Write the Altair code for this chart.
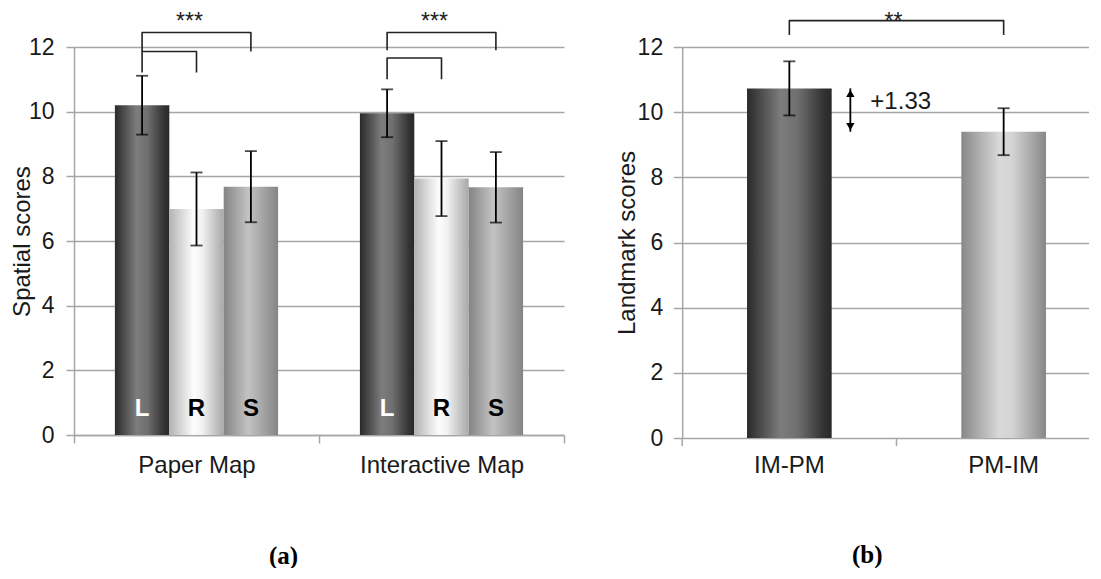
import altair as alt
import pandas as pd

# ---------------- data ----------------
map_types = ["Paper Map", "Interactive Map"]
conditions = ["L", "R", "S"]
letter_colors = ["white", "black", "black"]
paper_means = [10.20, 6.99, 7.68]
paper_errs = [0.91, 1.13, 1.10]
interactive_means = [9.95, 7.93, 7.66]
interactive_errs = [0.74, 1.16, 1.09]

orders = ["IM-PM", "PM-IM"]
landmark_means = [10.73, 9.40]
landmark_errs = [0.83, 0.72]

panel_tags = ["(a)", "(b)"]

# significance brackets (group, from, to, bar level, leg end level)
spatial_brackets = [
    ("Paper Map", "L", "S", 12.45, 11.86),
    ("Paper Map", "L", "R", 11.86, 11.21),
    ("Interactive Map", "L", "S", 12.45, 11.90),
    ("Interactive Map", "L", "R", 11.66, 11.00),
]
spatial_stars = [("Paper Map", "R", "***", 12.56), ("Interactive Map", "R", "***", 12.56)]
landmark_bracket = [12.81, 12.37]
landmark_stars = ["**", 12.553]

# ---------------- frames ----------------
rows = []
for g, means, errs in [(map_types[0], paper_means, paper_errs),
                       (map_types[1], interactive_means, interactive_errs)]:
    for c, m, e, lc in zip(conditions, means, errs, letter_colors):
        rows.append({"group": g, "cond": c, "mean": m, "lo": m - e, "hi": m + e,
                     "letter": c, "lcolor": lc, "ly": 0.6})
spatial = pd.DataFrame(rows)

brows = []
for i, (g, a, b, top, leg) in enumerate(spatial_brackets):
    for k, (c, v) in enumerate([(a, leg), (a, top), (b, top), (b, leg)]):
        brows.append({"bid": i, "group": g, "cond": c, "by": v, "ord": k})
brackets = pd.DataFrame(brows)

stars = pd.DataFrame([{"group": g, "cond": c, "txt": t, "sy": v} for g, c, t, v in spatial_stars])

land = pd.DataFrame({"order": orders, "mean": landmark_means,
                     "lo": [m - e for m, e in zip(landmark_means, landmark_errs)],
                     "hi": [m + e for m, e in zip(landmark_means, landmark_errs)]})
lb_rows = []
for k, (o, v) in enumerate([(orders[0], landmark_bracket[1]), (orders[0], landmark_bracket[0]),
                            (orders[1], landmark_bracket[0]), (orders[1], landmark_bracket[1])]):
    lb_rows.append({"order": o, "by": v, "ord": k})
land_br = pd.DataFrame(lb_rows)
land_star = pd.DataFrame([{"order": orders[0], "txt": landmark_stars[0], "sy": landmark_stars[1]}])
arrow = pd.DataFrame([{"order": orders[0], "top": landmark_means[0], "bot": landmark_means[1]}])
tag_b = pd.DataFrame([{"tag": panel_tags[1]}])

# ---------------- style ----------------
FONT = "Liberation Sans"
SERIF = "Liberation Serif"
GRID = "#a6a6a6"
INK = "#1a1a1a"
LH, RH = 388, 391


def grad(stops):
    return alt.Gradient(gradient="linear", x1=0, x2=1, y1=0, y2=0,
                        stops=[alt.GradientStop(offset=o, color=c) for o, c in stops])


g_dark = grad([(0, "#2a2a2a"), (0.4, "#7d7d7d"), (0.6, "#6f6f6f"), (0.9, "#333333"), (1, "#282828")])
g_white = grad([(0, "#b3b3b3"), (0.45, "#fdfdfd"), (0.6, "#f2f2f2"), (1, "#a8a8a8")])
g_mid = grad([(0, "#848484"), (0.45, "#c3c3c3"), (1, "#858585")])
g_light = grad([(0, "#888888"), (0.45, "#d9d9d9"), (0.6, "#d4d4d4"), (1, "#878787")])

# ---------------- left panel ----------------
xs_l = alt.Scale(domain=map_types, paddingInner=0, paddingOuter=0)
xo_s = alt.Scale(domain=conditions, paddingInner=0, paddingOuter=0.752)
ys_l = alt.Scale(domain=[0, 12], nice=False)

x_axis_l = alt.Axis(title=panel_tags[0], tickBand="extent", labelAngle=0, labelFont=FONT,
                    labelFontSize=24, labelColor=INK, labelPadding=10, tickSize=8, tickColor=GRID,
                    tickWidth=1.5, domainColor=GRID, domainWidth=1.5, titleFont=SERIF,
                    titleFontWeight="bold", titleFontSize=25, titleColor="black",
                    titlePadding=66, titleX=209)
y_axis_l = alt.Axis(title="Spatial scores", values=[0, 2, 4, 6, 8, 10, 12], labelFont=FONT,
                    labelFontSize=23, labelColor=INK, labelPadding=12, tickSize=8, tickColor=GRID,
                    tickWidth=1.5, domainColor=GRID, domainWidth=1.5, gridColor=GRID, gridWidth=1.5,
                    titleFont=FONT, titleFontSize=24, titleFontWeight="normal", titleColor=INK,
                    titlePadding=-6.1)

X_L = alt.X("group:N", scale=xs_l, axis=x_axis_l)
XO = alt.XOffset("cond:N", scale=xo_s)


def YL(field):
    return alt.Y(field, scale=ys_l, axis=y_axis_l)


base_l = alt.Chart(spatial)
bar_layers = []
for c, gfill in zip(conditions, [g_dark, g_white, g_mid]):
    bar_layers.append(base_l.transform_filter(alt.datum.cond == c)
                      .mark_bar(fill=gfill, strokeWidth=0)
                      .encode(x=X_L, xOffset=XO, y=YL("mean:Q")))

err_l = base_l.mark_rule(color="black", strokeWidth=1.8).encode(
    x=X_L, xOffset=XO, y=YL("lo:Q"), y2="hi:Q")
cap_lo_l = base_l.mark_tick(color="black", size=12, thickness=1.8).encode(
    x=X_L, xOffset=XO, y=YL("lo:Q"))
cap_hi_l = base_l.mark_tick(color="black", size=12, thickness=1.8).encode(
    x=X_L, xOffset=XO, y=YL("hi:Q"))
letters = base_l.mark_text(font=FONT, fontSize=24, fontWeight="bold", baseline="alphabetic").encode(
    x=X_L, xOffset=XO, y=YL("ly:Q"), text="letter:N",
    color=alt.Color("lcolor:N", scale=None))
br_l = alt.Chart(brackets).mark_line(color="#222222", strokeWidth=1.6, strokeJoin="round").encode(
    x=X_L, xOffset=XO, y=YL("by:Q"), detail="bid:N", order="ord:Q")
st_l = alt.Chart(stars).mark_text(font=FONT, fontSize=23, dx=-7, baseline="alphabetic",
                                  color="#222222").encode(
    x=X_L, xOffset=XO, y=YL("sy:Q"), text="txt:N")

left = alt.layer(*bar_layers, err_l, cap_lo_l, cap_hi_l, letters, br_l, st_l).properties(
    width=490, height=LH)

# ---------------- right panel ----------------
# band step kept equal to the reference (right end of the plot is cropped)
xs_r = alt.Scale(domain=orders, range=[0, 428.6], paddingInner=0, paddingOuter=0)
ys_r = alt.Scale(domain=[0, 12], nice=False)
y_axis_r = alt.Axis(title="Landmark scores", values=[0, 2, 4, 6, 8, 10, 12], labelFont=FONT,
                    labelFontSize=23, labelColor=INK, labelPadding=10.5, tickSize=9, tickColor=GRID,
                    tickWidth=1.5, domainColor=GRID, domainWidth=1.5, gridColor=GRID, gridWidth=1.5,
                    titleFont=FONT, titleFontSize=24, titleFontWeight="normal", titleColor=INK,
                    titlePadding=-2.7)
X_R = alt.X("order:N", scale=xs_r, axis=None)


def YR(field):
    return alt.Y(field, scale=ys_r, axis=y_axis_r)


base_r = alt.Chart(land)
rbars = []
for o, gfill in zip(orders, [g_dark, g_light]):
    rbars.append(base_r.transform_filter(alt.datum.order == o)
                 .mark_bar(fill=gfill, strokeWidth=0, width=alt.RelativeBandSize(0.395))
                 .encode(x=X_R, y=YR("mean:Q")))

xticks_r = base_r.mark_rule(color=GRID, strokeWidth=1.5).encode(
    x=alt.X("order:N", scale=xs_r, axis=None, bandPosition=0),
    y=alt.value(RH), y2=alt.value(RH + 8))
xlabels_r = base_r.mark_text(font=FONT, fontSize=24, color=INK, baseline="top").encode(
    x=X_R, y=alt.value(RH + 16), text="order:N")
tag_r = alt.Chart(tag_b).mark_text(font=SERIF, fontSize=25, fontWeight="bold", color="black",
                                   baseline="top").encode(
    x=alt.value(185), y=alt.value(RH + 105), text="tag:N")
err_r = base_r.mark_rule(color="black", strokeWidth=1.8).encode(
    x=X_R, y=YR("lo:Q"), y2="hi:Q")
cap_lo_r = base_r.mark_tick(color="black", size=12, thickness=1.8).encode(x=X_R, y=YR("lo:Q"))
cap_hi_r = base_r.mark_tick(color="black", size=12, thickness=1.8).encode(x=X_R, y=YR("hi:Q"))
br_r = alt.Chart(land_br).mark_line(color="#222222", strokeWidth=1.6, strokeJoin="round").encode(
    x=X_R, y=YR("by:Q"), order="ord:Q")
st_r = alt.Chart(land_star).mark_text(font=FONT, fontSize=23, dx=-3, baseline="alphabetic",
                                      color="#222222").encode(
    x=alt.X("order:N", scale=xs_r, axis=None, bandPosition=1),
    y=YR("sy:Q"), text="txt:N")
arr_line = alt.Chart(arrow).mark_rule(color="black", strokeWidth=1.8, xOffset=61).encode(
    x=X_R, y=YR("top:Q"), y2="bot:Q")
arr_up = alt.Chart(arrow).mark_point(shape="triangle-up", filled=True, color="black", opacity=1,
                                     size=70, xOffset=61, yOffset=5).encode(x=X_R, y=YR("top:Q"))
arr_dn = alt.Chart(arrow).mark_point(shape="triangle-down", filled=True, color="black", opacity=1,
                                     size=70, xOffset=61, yOffset=-5).encode(x=X_R, y=YR("bot:Q"))
arr_txt = alt.Chart(arrow).transform_calculate(
    lab="'+' + format(datum.top - datum.bot, '.2f')").mark_text(
    font=FONT, fontSize=24, align="left", baseline="alphabetic", dx=81, dy=21, color=INK).encode(
    x=X_R, y=YR("top:Q"), text="lab:N")

right = alt.layer(*rbars, xticks_r, xlabels_r, tag_r, err_r, cap_lo_r, cap_hi_r, br_r, st_r,
                  arr_line, arr_up, arr_dn, arr_txt).properties(width=406, height=RH)

chart = alt.hconcat(left, right, spacing=118.2, bounds="flush").properties(
    padding={"top": 2, "left": 2, "right": 0, "bottom": 0},
    background="white",
).configure_view(stroke=None)

chart.save("out.html", embed_options={"renderer": "svg", "actions": False})
